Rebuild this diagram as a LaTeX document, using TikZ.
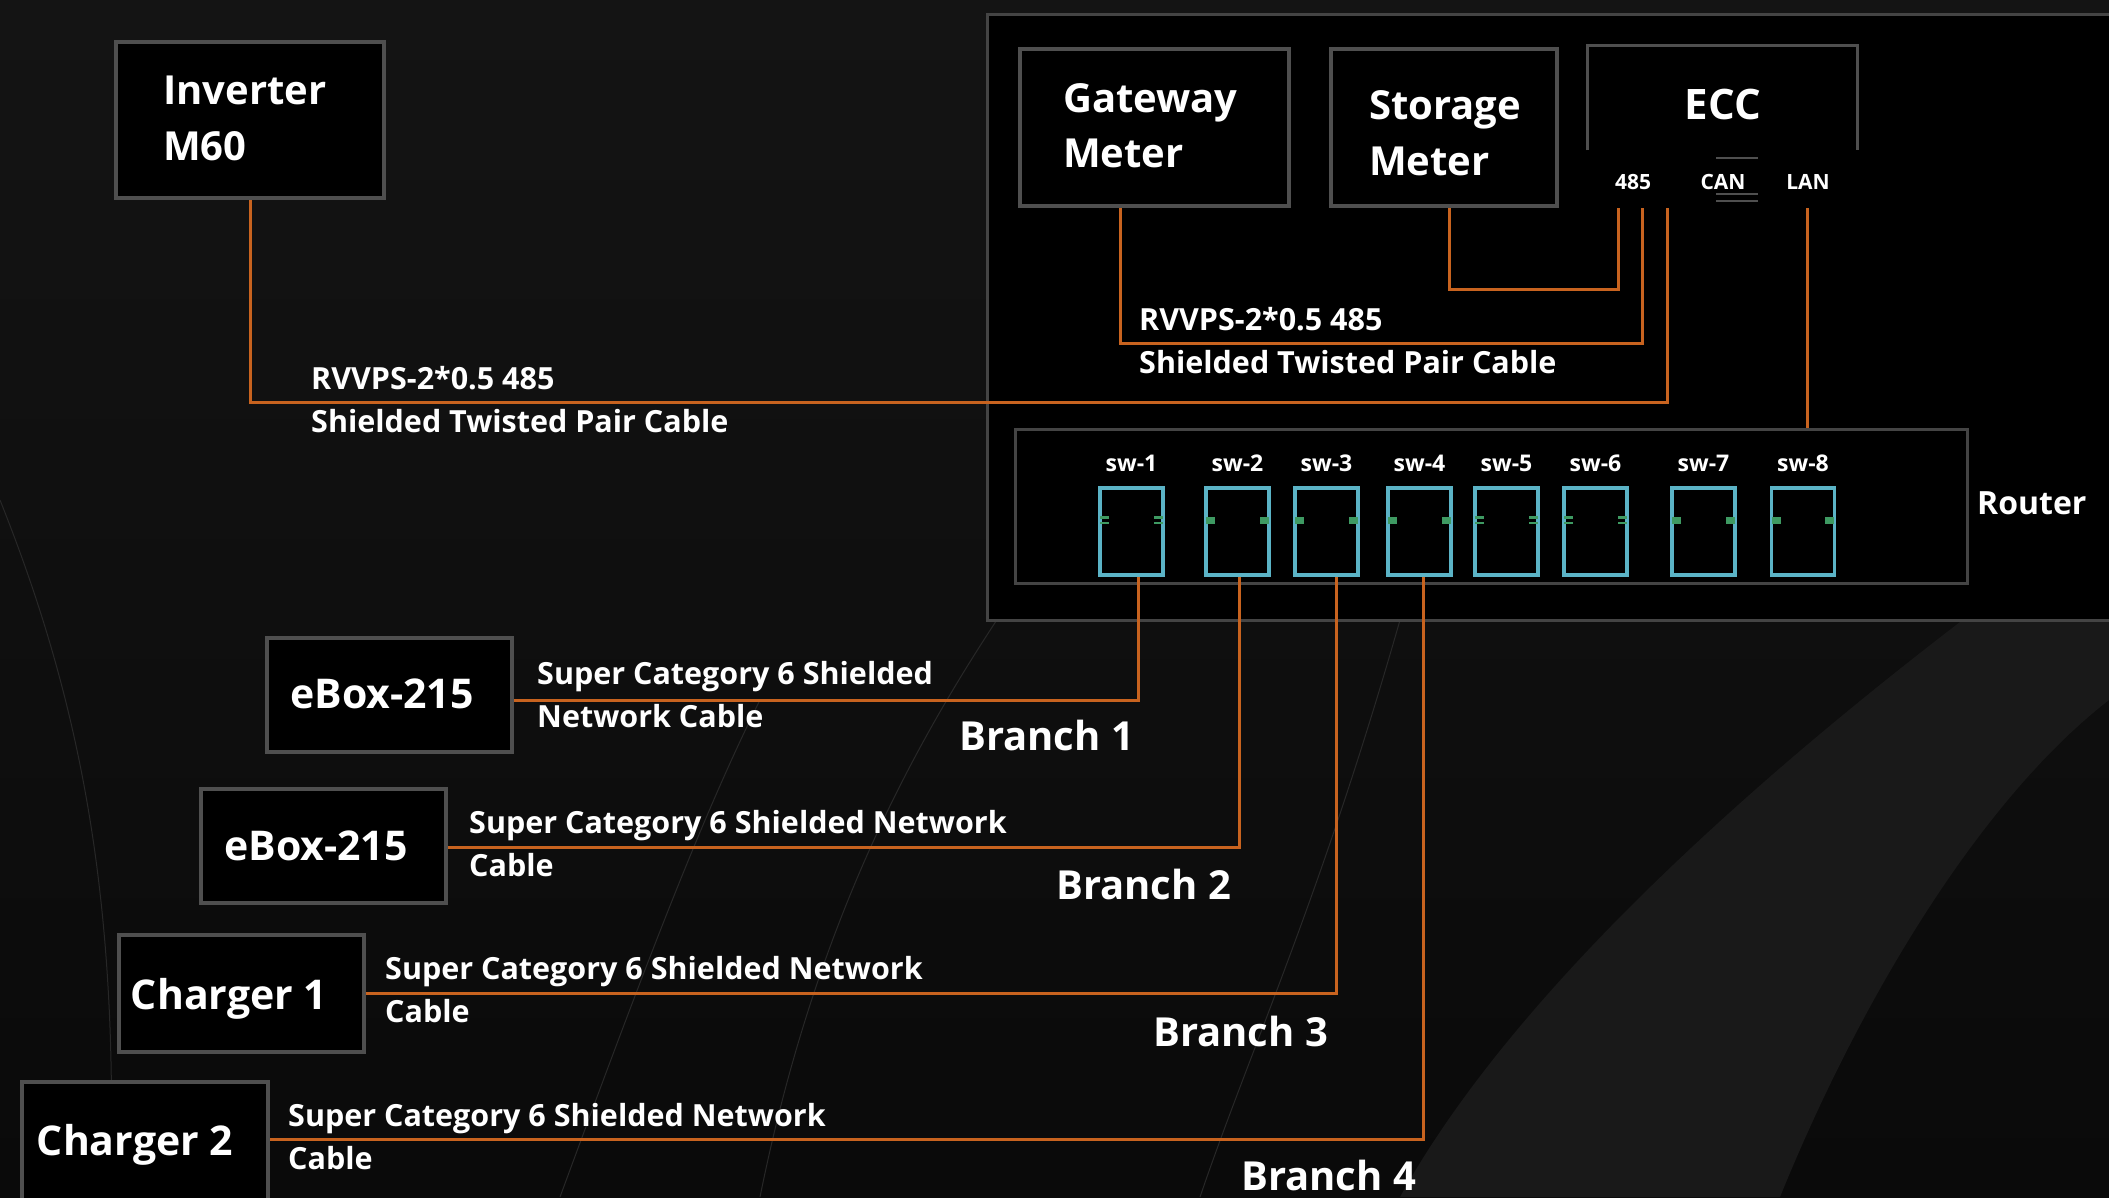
\documentclass[tikz,border=0pt]{standalone}
\usepackage{fontspec}
\setmainfont{Open Sans}
\usetikzlibrary{calc}
\definecolor{bgtop}{HTML}{141414}
\definecolor{bgbot}{HTML}{0A0A0A}
\definecolor{swirl}{HTML}{191919}
\definecolor{faint}{HTML}{272727}
\definecolor{boxgrey}{HTML}{4F4F4F}
\definecolor{contgrey}{HTML}{444444}
\definecolor{cablec}{HTML}{C8631F}
\definecolor{portc}{HTML}{5BB3C6}
\definecolor{portg}{HTML}{3E9A62}
\begin{document}
\begin{tikzpicture}[x=1pt,y=-1pt,
  devbox/.style={draw=boxgrey, line width=4pt, fill=black, inner sep=0pt, anchor=north west},
  txt/.style={text=white, inner sep=0pt, text depth=0pt},
  title/.style={txt, font=\fontsize{40}{48}\selectfont\bfseries, text height=28.5pt, anchor=west},
  devname/.style={txt, font=\fontsize{41}{48}\selectfont\bfseries, text height=29pt},
  cablelbl/.style={txt, font=\fontsize{30.5}{36}\selectfont\bfseries, text height=22pt, anchor=west},
  branchlbl/.style={txt, font=\fontsize{40}{48}\selectfont\bfseries, text height=28.5pt, anchor=west},
  swlbl/.style={txt, font=\fontsize{23}{28}\selectfont\bfseries, text height=16.5pt},
  ecclbl/.style={txt, font=\fontsize{21}{26}\selectfont\bfseries, text height=15pt},
  cable/.style={draw=cablec, line width=3pt},
  port/.style={draw=portc, line width=3.5pt, fill=black, minimum width=63pt, minimum height=87pt, inner sep=0pt},
]
\useasboundingbox (0,0) rectangle (2109,1197);
\clip (0,0) rectangle (2109,1197);
% background
\shade[top color=bgtop, bottom color=bgbot] (0,0) rectangle (2109,1197);
\fill[swirl] (1960,622) .. controls (1780,760) and (1520,980) .. (1400,1197)
  -- (1780,1197) .. controls (1860,1000) and (1980,800) .. (2109,700) -- (2109,622) -- cycle;
\draw[faint, line width=1pt] (760,1197) .. controls (820,900) and (930,720) .. (1010,600);
\draw[faint, line width=1pt] (560,1197) .. controls (640,980) and (700,820) .. (760,700);
\draw[faint, line width=1pt] (1200,1197) .. controls (1250,1050) and (1320,900) .. (1400,620);
\draw[faint, line width=1pt] (0,500) .. controls (80,700) and (120,900) .. (110,1197);

% container
\node[draw=contgrey, line width=3pt, fill=black, anchor=north west, minimum width=1140pt, minimum height=606pt, inner sep=0pt] (cont) at (986,13) {};

% top devices
\node[devbox, minimum width=268pt, minimum height=156pt] (inv) at (114,40) {};
\node[title] (invt1) at (163,90) {Inverter};
\node[title] (invt2) at (163,146) {M60};

\node[devbox, minimum width=269pt, minimum height=157pt] (gw) at (1018,47) {};
\node[title] (gwt1) at (1063,98) {Gateway};
\node[title] (gwt2) at (1063,153) {Meter};

\node[devbox, minimum width=226pt, minimum height=157pt] (st) at (1329,47) {};
\node[title] (stt1) at (1369,105) {Storage};
\node[title] (stt2) at (1369,161) {Meter};

% ECC
\node[inner sep=0pt, minimum width=270pt, minimum height=105pt, anchor=north west] (ecc) at (1587,45) {};
\draw[draw=boxgrey, line width=3pt] (ecc.south west) -- (ecc.north west) -- (ecc.north east) -- (ecc.south east);
\node[title, anchor=center, font=\fontsize{42}{48}\selectfont\bfseries] (ecct) at (1723,105) {ECC};
\node[ecclbl] (l485) at (1633,182) {485};
\node[ecclbl] (lcan) at (1723,182) {CAN};
\node[ecclbl] (llan) at (1808,182) {LAN};
\draw[boxgrey, line width=2.5pt] (1716,158) -- (1758,158);
\draw[boxgrey, line width=2.5pt] (1716,194) -- (1758,194);
\draw[boxgrey, line width=2.5pt] (1716,201) -- (1758,201);
\coordinate (p485a) at (1618,208);
\coordinate (p485b) at (1642,208);
\coordinate (p485c) at (1667,208);
\coordinate (plan) at (1807,208);

% router
\node[draw=contgrey, line width=3pt, fill=black, anchor=north west, minimum width=952pt, minimum height=154pt, inner sep=0pt] (router) at (1014,428) {};
\node[txt, font=\fontsize{32}{38}\selectfont\bfseries, text height=23pt, anchor=west] (routert) at (1977,503) {Router};

\foreach \n/\x in {1/1131.5,2/1237.5,3/1326.5,4/1419.5,5/1506.5,6/1595.5,7/1703.5,8/1803}{
  \node[port] (sw\n) at (\x,531.5) {};
  \node[swlbl] (swl\n) at (\x,463) {sw-\n};
}
% solid marks
\foreach \n in {2,3,4,7,8}{
  \fill[portg] ($(sw\n.west)+(2,-14.5)$) rectangle ++(9,7);
  \fill[portg] ($(sw\n.east)+(-11,-14.5)$) rectangle ++(9,7);
}
% double marks
\foreach \n in {1,5,6}{
  \fill[portg] ($(sw\n.west)+(2,-15.5)$) rectangle ++(9,2.5);
  \fill[portg] ($(sw\n.west)+(2,-10)$) rectangle ++(9,2.5);
  \fill[portg] ($(sw\n.east)+(-11,-15.5)$) rectangle ++(9,2.5);
  \fill[portg] ($(sw\n.east)+(-11,-10)$) rectangle ++(9,2.5);
}

% bottom devices
\node[devbox, minimum width=245pt, minimum height=114pt] (eb1) at (265,636) {};
\node[devname] (eb1t) at (382,694) {eBox-215};
\node[devbox, minimum width=245pt, minimum height=114pt] (eb2) at (199,787) {};
\node[devname] (eb2t) at (316,846) {eBox-215};
\node[devbox, minimum width=245pt, minimum height=117pt] (ch1) at (117,933) {};
\node[devname] (ch1t) at (229,995) {Charger 1};
\node[devbox, minimum width=246pt, minimum height=120pt] (ch2) at (20,1080) {};
\node[devname] (ch2t) at (135,1141) {Charger 2};

% cables top
\draw[cable] ([xshift=5pt]st.south) -- ++(0,81) -| (p485a);
\draw[cable] ([xshift=-34.5pt]gw.south) -- ++(0,135) -| (p485b);
\draw[cable] (inv.south) -- ++(0,202) -| (p485c);
\draw[cable] (plan) -- (plan |- router.north);

% cable labels top
\node[cablelbl] (c1a) at (311,378) {RVVPS-2*0.5 485};
\node[cablelbl] (c1b) at (311,421) {Shielded Twisted Pair Cable};
\node[cablelbl] (c2a) at (1139,319) {RVVPS-2*0.5 485};
\node[cablelbl] (c2b) at (1139,362) {Shielded Twisted Pair Cable};

% branches
\draw[cable] ([xshift=6.5pt]sw1.south) |- ([yshift=-5pt]eb1.east);
\draw[cable] ([xshift=1.5pt]sw2.south) |- ([yshift=-1pt]eb2.east);
\draw[cable] ([xshift=9.5pt]sw3.south) |- (ch1.east);
\draw[cable] ([xshift=3.5pt]sw4.south) |- ([yshift=3pt]ch2.east);

\node[cablelbl] (b1a) at (537,673) {Super Category 6 Shielded};
\node[cablelbl] (b1b) at (537,716) {Network Cable};
\node[branchlbl] (b1) at (959,736) {Branch 1};
\node[cablelbl] (b2a) at (469,822) {Super Category 6 Shielded Network};
\node[cablelbl] (b2b) at (469,865) {Cable};
\node[branchlbl] (b2) at (1056,885) {Branch 2};
\node[cablelbl] (b3a) at (385,968) {Super Category 6 Shielded Network};
\node[cablelbl] (b3b) at (385,1011) {Cable};
\node[branchlbl] (b3) at (1153,1032) {Branch 3};
\node[cablelbl] (b4a) at (288,1115) {Super Category 6 Shielded Network};
\node[cablelbl] (b4b) at (288,1158) {Cable};
\node[branchlbl] (b4) at (1241,1176) {Branch 4};
\end{tikzpicture}
\end{document}
